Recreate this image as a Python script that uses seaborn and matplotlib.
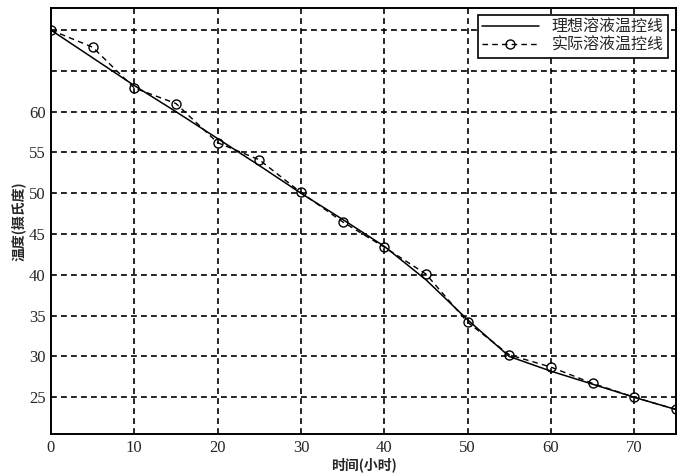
import matplotlib
matplotlib.use("Agg")
import matplotlib.pyplot as plt
import pandas as pd
import seaborn as sns

hours = [0, 5, 10, 15, 20, 25, 30, 35, 40, 45, 50, 55, 60, 65, 70, 75]
ideal_temp = [70, 66.6, 63.2, 60.0, 56.7, 53.4, 50.0, 46.8, 43.5, 39.4, 34.5, 30.0, 28.2, 26.6, 25.0, 23.5]
actual_temp = [70, 67.9, 62.9, 61.0, 56.2, 54.1, 50.1, 46.5, 43.4, 40.1, 34.2, 30.2, 28.7, 26.7, 25.0, 23.5]
label_ideal = "理想溶液温控线"
label_actual = "实际溶液温控线"
x_ticks = [0, 10, 20, 30, 40, 50, 60, 70]
y_ticks = [25, 30, 35, 40, 45, 50, 55, 60, 65, 70]
y_tick_labels = ["25", "30", "35", "40", "45", "50", "55", "60", "", ""]

sns.set_style("white")
plt.rcParams["font.family"] = ["Noto Sans CJK SC", "DejaVu Sans"]

df = pd.DataFrame({"hour": hours, "ideal": ideal_temp, "actual": actual_temp})

fig = plt.figure(figsize=(6.86, 4.73), dpi=100)
ax = fig.add_axes([0.0743, 0.0825, 0.911, 0.9005])

sns.lineplot(data=df, x="hour", y="ideal", ax=ax, color="black", lw=1.1,
             label=label_ideal)
sns.lineplot(data=df, x="hour", y="actual", ax=ax, color="black", lw=1.0,
             linestyle=(0, (4, 3)), marker="o", markersize=6.5,
             markerfacecolor="none", markeredgecolor="black",
             markeredgewidth=1.0, label=label_actual)

ax.set_xlim(0, 75)
ax.set_ylim(20.5, 72.7)
ax.set_xticks(x_ticks)
ax.set_yticks(y_ticks)
ax.set_yticklabels(y_tick_labels)
for lab in ax.get_xticklabels() + ax.get_yticklabels():
    lab.set_family("Liberation Serif")
    lab.set_fontsize(12)
ax.tick_params(axis="both", length=0, pad=4)

ax.grid(True, color="black", linestyle=(0, (3.5, 2.5)), linewidth=1.2)
for s in ax.spines.values():
    s.set_color("black")
    s.set_linewidth(1.4)

ax.set_xlabel("时间(小时)", fontsize=10, fontweight="bold", labelpad=1)
ax.set_ylabel("温度(摄氏度)", fontsize=10, fontweight="bold", labelpad=2)

leg = ax.legend(loc="upper right", bbox_to_anchor=(0.987, 0.984), fontsize=11.5,
                frameon=True, fancybox=False, edgecolor="black", framealpha=1,
                borderaxespad=0.0, handlelength=3.6, handletextpad=0.8,
                borderpad=0.25, labelspacing=0.05)
leg.get_frame().set_linewidth(1.2)

fig.savefig("out.png", dpi=100)
